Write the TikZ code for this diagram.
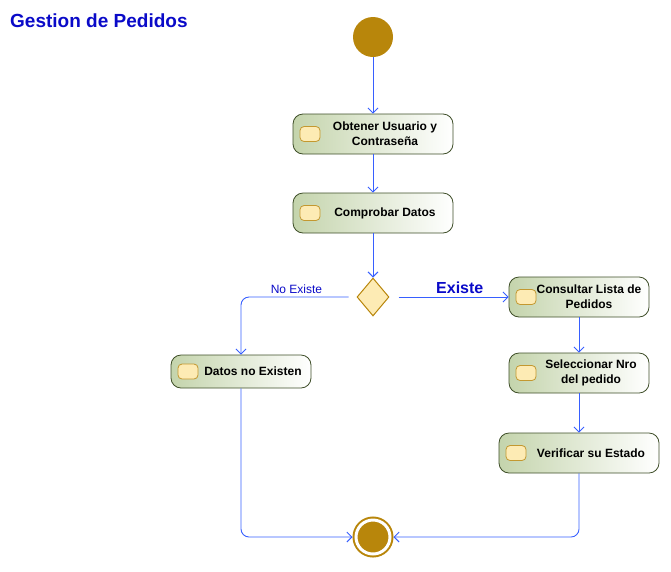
\documentclass[tikz,border=0pt]{standalone}
\usepackage{fontspec}
\setmainfont{Liberation Sans}
\usepackage{tikz}
\usetikzlibrary{shapes.geometric,arrows.meta}
\definecolor{oro}{RGB}{184,134,11}
\definecolor{crema}{RGB}{253,235,180}
\definecolor{verdeA}{RGB}{196,212,172}
\definecolor{verdeB}{RGB}{62,78,40}
\definecolor{azul}{RGB}{55,95,255}
\definecolor{titulo}{RGB}{10,10,200}

\begin{document}
\begin{tikzpicture}[x=1pt,y=-1pt,
            inicio/.style={circle, fill=oro, minimum size=40pt, inner sep=0pt},
            fin/.style={circle, fill=oro, draw=oro, double=white, double distance=3pt, line width=2pt, minimum size=34pt, inner sep=0pt, outer sep=3.5pt},
            accion/.style={rectangle, rounded corners=10pt, draw=verdeB, line width=0.8pt, left color=verdeA, right color=white, minimum width=160pt, minimum height=40pt,
              path picture={\filldraw[draw=oro!85, fill=crema, rounded corners=4pt, line width=0.8pt] ([xshift=7pt,yshift=-7.5pt]path picture bounding box.west) rectangle ([xshift=27pt,yshift=7.5pt]path picture bounding box.west);}},
            texto/.style={font=\fontsize{12}{15}\selectfont\bfseries, align=center, inner sep=0pt},
            decision/.style={diamond, draw=oro, fill=crema, line width=1pt, minimum width=32pt, minimum height=38pt, inner sep=0pt},
            flujo/.style={draw=azul, line width=0.9pt, -{Straight Barb[length=5pt,width=10pt]}, rounded corners=8pt},
            etiqueta/.style={text=titulo, inner sep=3pt}]
				\useasboundingbox (0,0) rectangle (671,571);
				\node[font=\fontsize{19}{21}\selectfont\bfseries, text=titulo, anchor=west, inner sep=0pt] (titulo) at (10,21) {Gestion de Pedidos};

				\node[inicio] (inicio) at (373,37) {};
				\node[accion] (obtener) at (373,134) {};
				\node[texto] (tobtener) at ([xshift=12pt]obtener.center) {Obtener Usuario y\\Contraseña};
				\node[accion] (comprobar) at (373,213) {};
				\node[texto] (tcomprobar) at ([xshift=12pt]comprobar.center) {Comprobar Datos};
				\node[decision] (decision) at (373,297) {};

				\node[accion, minimum width=140pt, minimum height=33pt] (datos) at (241,371.5) {};
				\node[texto] (tdatos) at ([xshift=12pt]datos.center) {Datos no Existen};

				\node[accion, minimum width=140pt] (consultar) at (579,297) {};
				\node[texto] (tconsultar) at ([xshift=10pt]consultar.center) {Consultar Lista de\\Pedidos};
				\node[accion, minimum width=140pt] (seleccionar) at (579,373) {};
				\node[texto] (tseleccionar) at ([xshift=12pt]seleccionar.center) {Seleccionar Nro\\del pedido};
				\node[accion] (verificar) at (579,453) {};
				\node[texto] (tverificar) at ([xshift=12pt]verificar.center) {Verificar su Estado};

				\node[fin] (fin) at (373,537) {};

				\draw[flujo] (inicio) -- (obtener);
				\draw[flujo] (obtener) -- (comprobar);
				\draw[flujo] (comprobar) -- (decision);
				\draw[flujo, shorten <=8pt] (decision.west) -| node[etiqueta, pos=0.26, above, font=\fontsize{12}{14}\selectfont] (noexiste) {No Existe} (datos);
				\draw[flujo, shorten <=9pt] (decision.east) -- node[etiqueta, pos=0.59, above, font=\fontsize{16}{18}\selectfont\bfseries] (existe) {Existe} (consultar);
				\draw[flujo] (consultar) -- (seleccionar);
				\draw[flujo] (seleccionar) -- (verificar);
				\draw[flujo] (datos) |- (fin);
				\draw[flujo] (verificar) |- (fin);
 		\end{tikzpicture}
\end{document}
